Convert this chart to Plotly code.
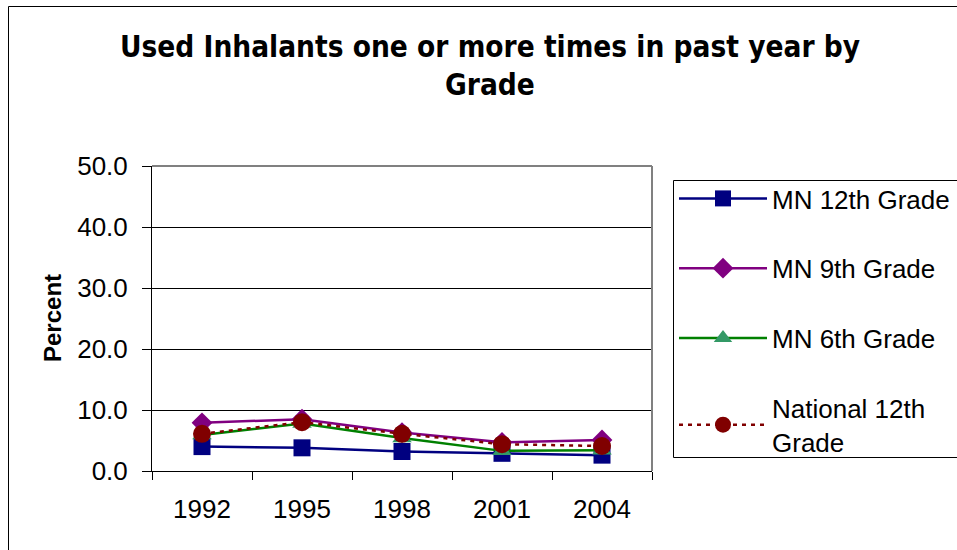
import plotly.graph_objects as go

years = ["1992", "1995", "1998", "2001", "2004"]
mn12 = [4.0, 3.8, 3.2, 2.9, 2.6]
mn9 = [7.9, 8.5, 6.3, 4.7, 5.1]
mn6 = [5.9, 7.8, 5.4, 3.3, 3.4]
nat12 = [6.1, 8.0, 6.1, 4.4, 4.1]
yticks = [0, 10, 20, 30, 40, 50]

L, R, T, B = 152, 652, 166, 471
W, H = 957, 550
PW, PH = R - L, B - T


def px_x(x):
    return (x - L) / PW


def px_y(y):
    return (B - y) / PH


fig = go.Figure()
series = [
    ("MN 12th Grade", mn12, "#000080", "solid", "square", "#000080", 17),
    ("MN 9th Grade", mn9, "#800080", "solid", "diamond", "#800080", 16),
    ("MN 6th Grade", mn6, "#008000", "solid", "triangle-up", "#339966", 17),
    ("National 12th<br>Grade", nat12, "#800000", "4px,5px", "circle", "#800000", 18),
]
for i, (name, vals, lc, dash, sym, mc, ms) in enumerate(series):
    fig.add_trace(go.Scatter(
        x=years, y=vals, name=name, mode="lines+markers",
        line=dict(color=lc, width=2.5, dash=dash),
        marker=dict(symbol=sym, color=mc, size=ms, line=dict(width=0)),
        legendgroup=str(i),
    ))

fig.update_layout(
    width=W, height=H,
    margin=dict(l=L, r=W - R, t=T, b=H - B, autoexpand=False),
    paper_bgcolor="white", plot_bgcolor="white",
    font=dict(family="Arial, Liberation Sans, sans-serif", color="black", size=26),
    title=dict(
        text="<b>Used Inhalants one or more times in past year by<br>Grade</b>",
        x=490 / W, xanchor="center", y=1 - 57 / H, yanchor="middle",
        font=dict(family="DejaVu Sans Condensed, Arial Narrow, Arial", size=29.5),
    ),
    showlegend=True,
    legend=dict(
        x=px_x(674), xanchor="left",
        y=px_y(175), yanchor="top",
        borderwidth=0, bgcolor="rgba(0,0,0,0)",
        font=dict(size=26), tracegroupgap=33, traceorder="grouped",
        itemwidth=88,
    ),
    xaxis=dict(
        type="category", range=[-0.5, 4.5],
        showline=True, linecolor="black", linewidth=1,
        ticks="outside", ticklen=8, tickcolor="black",
        tickson="boundaries", showgrid=False, mirror=False,
        tickfont=dict(size=26), ticklabelstandoff=15,
    ),
    yaxis=dict(
        range=[0, 50], tickvals=yticks, ticktext=[f"{v:.1f}" for v in yticks],
        showline=True, linecolor="black", linewidth=1,
        ticks="outside", ticklen=9, tickcolor="black",
        showgrid=True, gridcolor="black", gridwidth=1, zeroline=False,
        tickfont=dict(size=26), ticklabelstandoff=9,
    ),
    annotations=[
        dict(text="<b>Percent</b>", xref="paper", yref="paper",
             x=px_x(52), y=px_y(318), xanchor="center", yanchor="middle",
             textangle=-90, showarrow=False, font=dict(size=24)),
    ],
    shapes=[
        dict(type="line", xref="paper", yref="paper", x0=0, x1=1, y0=1, y1=1,
             line=dict(color="#808080", width=2)),
        dict(type="line", xref="paper", yref="paper", x0=1, x1=1, y0=0, y1=1,
             line=dict(color="#808080", width=2)),
        dict(type="rect", xref="paper", yref="paper",
             x0=px_x(673.5), x1=px_x(1000),
             y0=px_y(457.5), y1=px_y(180.5),
             line=dict(color="black", width=1), layer="below"),
        dict(type="rect", xref="paper", yref="paper",
             x0=px_x(8.5), x1=px_x(975),
             y0=px_y(570), y1=px_y(6.5),
             line=dict(color="black", width=1)),
    ],
)

fig.write_html("out.html", config={"displayModeBar": False},
               post_script="document.body.style.margin='0';")
